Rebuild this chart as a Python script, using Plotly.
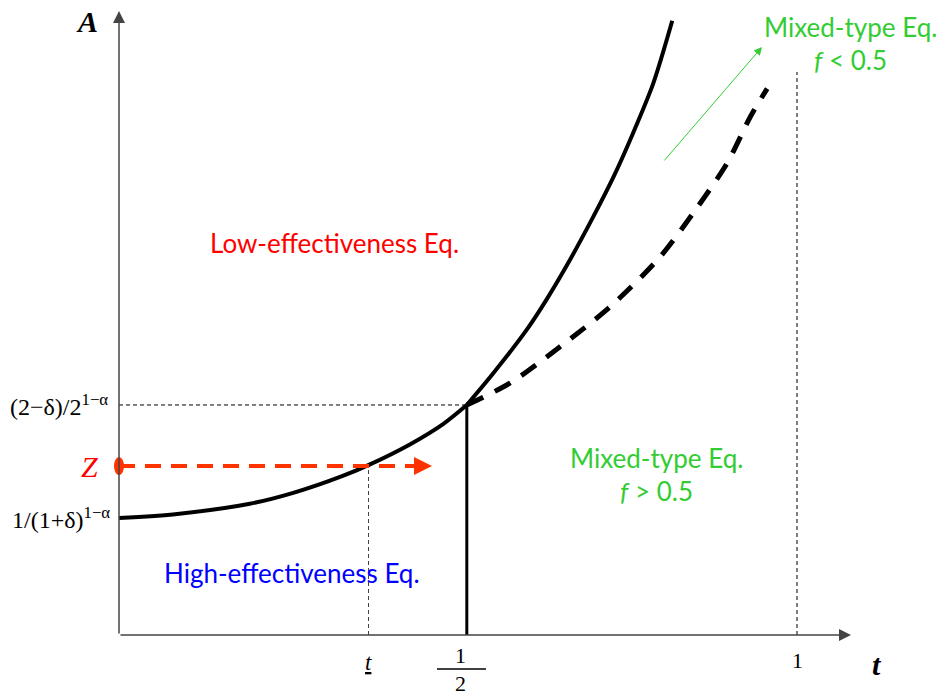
import plotly.graph_objects as go

# ---- data (t, A) ----
# solid boundary below t = 1/2
lower_t = [0.000, 0.086, 0.193, 0.257, 0.330, 0.367, 0.429, 0.478, 0.513]
lower_A = [1.000, 1.035, 1.122, 1.215, 1.360, 1.450, 1.629, 1.803, 1.966]
# solid boundary above t = 1/2
upper_t = [0.513, 0.552, 0.602, 0.631, 0.665, 0.699, 0.729, 0.758, 0.788, 0.816]
upper_A = [1.966, 2.237, 2.614, 2.871, 3.205, 3.569, 3.911, 4.287, 4.715, 5.250]
# dashed boundary
dashed_t = [0.513, 0.577, 0.650, 0.724, 0.798, 0.847, 0.897, 0.931, 0.956]
dashed_A = [1.966, 2.154, 2.462, 2.803, 3.231, 3.607, 4.034, 4.427, 4.670]

A_low = 1.000      # 1/(1+δ)^(1-α)
A_mid = 1.966      # (2-δ)/2^(1-α)
Z_val = 1.444
t_under = 0.368
t_half = 0.513
t_one = 1.0

y_tick_labels = ["1/(1+δ)<sup>1−α</sup>", "(2−δ)/2<sup>1−α</sup>"]

# ---- pixel helpers (layout only) ----
X0, XS = 119, 678
Y0, YS = 635, 117
W, H = 942, 696


def px(p):
    return (p - X0) / XS


def py(p):
    return (Y0 - p) / YS


SERIF = "Liberation Serif, Times New Roman, serif"
SANS = "Lato, Open Sans, sans-serif"
GREEN = "#33cc33"
RED_ARROW = "#ff3300"

fig = go.Figure()

# guide lines
fig.add_trace(go.Scatter(x=[0, t_half], y=[A_mid, A_mid], mode="lines",
                         line=dict(color="black", width=1, dash="4px,3px"),
                         hoverinfo="skip", showlegend=False))
fig.add_trace(go.Scatter(x=[t_under, t_under], y=[0, Z_val], mode="lines",
                         line=dict(color="#444", width=1, dash="4px,3px"),
                         hoverinfo="skip", showlegend=False))
fig.add_trace(go.Scatter(x=[t_one, t_one], y=[0, py(72)], mode="lines",
                         line=dict(color="black", width=1, dash="4px,3px"),
                         hoverinfo="skip", showlegend=False))

# vertical line at 1/2
fig.add_trace(go.Scatter(x=[t_half, t_half], y=[0, A_mid], mode="lines",
                         line=dict(color="black", width=3),
                         hoverinfo="skip", showlegend=False))

# curves
fig.add_trace(go.Scatter(x=dashed_t, y=dashed_A, mode="lines",
                         line=dict(color="black", width=5, dash="18px,13px",
                                   shape="spline", smoothing=0.8),
                         hoverinfo="skip", showlegend=False))
fig.add_trace(go.Scatter(x=lower_t, y=lower_A, mode="lines",
                         line=dict(color="black", width=4, shape="spline", smoothing=0.8),
                         hoverinfo="skip", showlegend=False))
fig.add_trace(go.Scatter(x=upper_t, y=upper_A, mode="lines",
                         line=dict(color="black", width=4, shape="spline", smoothing=0.8),
                         hoverinfo="skip", showlegend=False))

# red dashed Z arrow line
z_end = px(418)
fig.add_trace(go.Scatter(x=[0, z_end], y=[Z_val, Z_val], mode="lines",
                         line=dict(color=RED_ARROW, width=4, dash="16px,10px"),
                         hoverinfo="skip", showlegend=False))

shapes = []
# red dot
shapes.append(dict(type="circle", xref="x", yref="y", xsizemode="pixel", ysizemode="pixel",
                   xanchor=0, yanchor=Z_val, x0=-5, x1=5, y0=-9, y1=9,
                   fillcolor=RED_ARROW, line=dict(width=0)))
# fraction bar
shapes.append(dict(type="line", xref="x", yref="y", x0=px(437), x1=px(486),
                   y0=py(669), y1=py(669), line=dict(color="black", width=1.3)))

annotations = []
# axes arrows
annotations.append(dict(x=px(851), y=0, ax=0, ay=0, xref="x", yref="y", axref="x", ayref="y",
                        showarrow=True, arrowhead=2, arrowsize=1.6, arrowwidth=1.5,
                        arrowcolor="#444", text=""))
annotations.append(dict(x=0, y=py(11), ax=0, ay=0, xref="x", yref="y", axref="x", ayref="y",
                        showarrow=True, arrowhead=2, arrowsize=1.6, arrowwidth=1.5,
                        arrowcolor="#444", text=""))
# Z arrowhead
annotations.append(dict(x=px(432), y=Z_val, ax=px(412), ay=Z_val, xref="x", yref="y",
                        axref="x", ayref="y", showarrow=True, arrowhead=2, arrowsize=0.9,
                        arrowwidth=4, arrowcolor=RED_ARROW, text=""))
# green arrow
annotations.append(dict(x=px(762), y=py(47), ax=px(663), ay=py(162), xref="x", yref="y",
                        axref="x", ayref="y", showarrow=True, arrowhead=2, arrowsize=1.6,
                        arrowwidth=1, arrowcolor=GREEN, text=""))


def label(text, x, y, size, color="black", family=SERIF, xanchor="center"):
    annotations.append(dict(x=x, y=y, xref="x", yref="y", text=text, showarrow=False,
                            font=dict(family=family, size=size, color=color),
                            xanchor=xanchor, yanchor="middle"))


# axis titles
label("<b><i>A</i></b>", px(87), py(21), 30)
label("<b><i>t</i></b>", px(877), py(664), 30)
# y tick labels
label(y_tick_labels[0], px(112), A_low, 24, xanchor="right")
label(y_tick_labels[1], px(110), A_mid, 24, xanchor="right")
label("<i>Z</i>", px(89), Z_val, 30, color="#ff0000")
# x tick labels
label("<i><u>t</u></i>", t_under, py(662), 23)
label("1", px(460), py(655), 22)
label("2", px(460), py(683), 22)
label("1", t_one, py(660), 22)

# region labels
label("Low-effectiveness Eq.", px(334), py(243), 26, color="#ff0000", family=SANS)
label("High-effectiveness Eq.", px(292), py(573), 26, color="#0000ff", family=SANS)
label("Mixed-type Eq.", px(656), py(458), 26, color=GREEN, family=SANS)
label("<i>f</i> > 0.5", px(656), py(491), 26, color=GREEN, family=SANS)
label("Mixed-type Eq.", px(850), py(27), 26, color=GREEN, family=SANS)
label("<i>f</i> < 0.5", px(850), py(60), 26, color=GREEN, family=SANS)

fig.update_layout(
    width=W, height=H, autosize=False,
    margin=dict(l=0, r=0, t=0, b=0),
    paper_bgcolor="white", plot_bgcolor="white",
    xaxis=dict(range=[px(0), px(W)], visible=False, fixedrange=True),
    yaxis=dict(range=[py(H), py(0)], visible=False, fixedrange=True),
    shapes=shapes, annotations=annotations, showlegend=False,
)

fig.write_html("out.html", config={"displayModeBar": False},
               post_script="document.body.style.margin='0';")
